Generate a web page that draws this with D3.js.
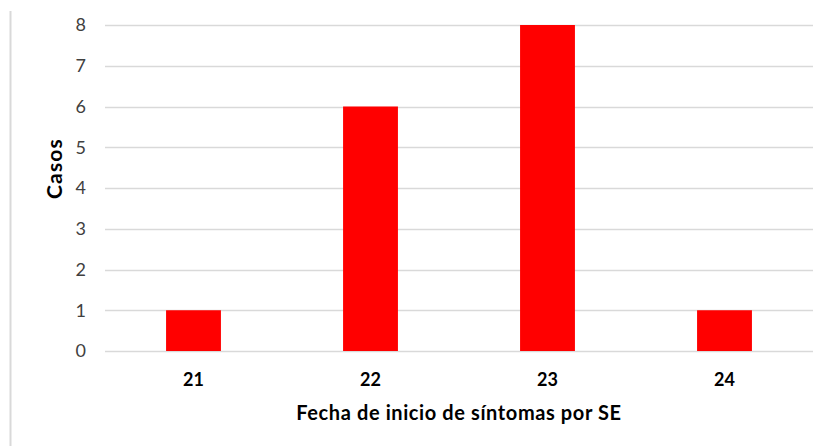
<!DOCTYPE html>
<html><head><meta charset="utf-8">
<script src="https://cdn.jsdelivr.net/npm/d3@7"></script>
<style>body{margin:0;background:#fff}svg{display:block}</style>
</head><body>
<script>
const categories = ["21", "22", "23", "24"];
const casos = [1, 6, 8, 1];
const yTicks = [0, 1, 2, 3, 4, 5, 6, 7, 8];
const xTitle = "Fecha de inicio de síntomas por SE";
const yTitle = "Casos";

const W = 833, H = 446;
const m = {left: 105, right: 20, top: 25, bottom: 95};
const svg = d3.select("body").append("svg").attr("width", W).attr("height", H);

// chart border (left)
svg.append("line").attr("x1", 10.5).attr("x2", 10.5).attr("y1", 11).attr("y2", H)
  .attr("stroke", "#d9d9d9").attr("stroke-width", 2);

const x = d3.scaleBand().domain(categories).range([m.left, W - m.right]).paddingInner(0.69).paddingOuter(0.345);
const y = d3.scaleLinear().domain([0, 8]).range([H - m.bottom, m.top]);

const font = "Lato, 'Open Sans', sans-serif";

// gridlines
svg.append("g").selectAll("line").data(yTicks).join("line")
  .attr("x1", m.left).attr("x2", W - m.right)
  .attr("y1", d => Math.round(y(d)) + 0.5).attr("y2", d => Math.round(y(d)) + 0.5)
  .attr("stroke", "#d9d9d9").attr("stroke-width", 1.5);

// y axis labels
const yAxis = d3.axisLeft(y).tickValues(yTicks).tickSize(0).tickPadding(0).tickFormat(d3.format("d"));
const ya = svg.append("g").attr("transform", `translate(${m.left - 19},0)`).call(yAxis);
ya.select(".domain").remove();
ya.selectAll("text").attr("font-family", font).attr("font-size", 18).attr("fill", "#404040");

// bars
svg.append("g").selectAll("rect").data(casos).join("rect")
  .attr("x", (d, i) => x(categories[i])).attr("width", x.bandwidth())
  .attr("y", d => y(d)).attr("height", d => y(0) - y(d))
  .attr("fill", "#ff0000");

// x axis labels
const xAxis = d3.axisBottom(x).tickSize(0).tickPadding(0);
const xa = svg.append("g").attr("transform", `translate(0,${y(0) + 22})`).call(xAxis);
xa.select(".domain").remove();
xa.selectAll("text").attr("font-family", font).attr("font-size", 18).attr("font-weight", "bold").attr("fill", "#000");

// titles
svg.append("text").attr("x", 459).attr("y", 420).attr("text-anchor", "middle")
  .attr("font-family", font).attr("font-size", 20).attr("letter-spacing", 0.6).attr("font-weight", "bold").attr("fill", "#000").text(xTitle);
svg.append("text").attr("transform", "translate(62,168.5) rotate(-90)").attr("text-anchor", "middle")
  .attr("font-family", font).attr("font-size", 21).attr("letter-spacing", 1.2).attr("font-weight", "bold").attr("fill", "#000").text(yTitle);
</script>
</body></html>
